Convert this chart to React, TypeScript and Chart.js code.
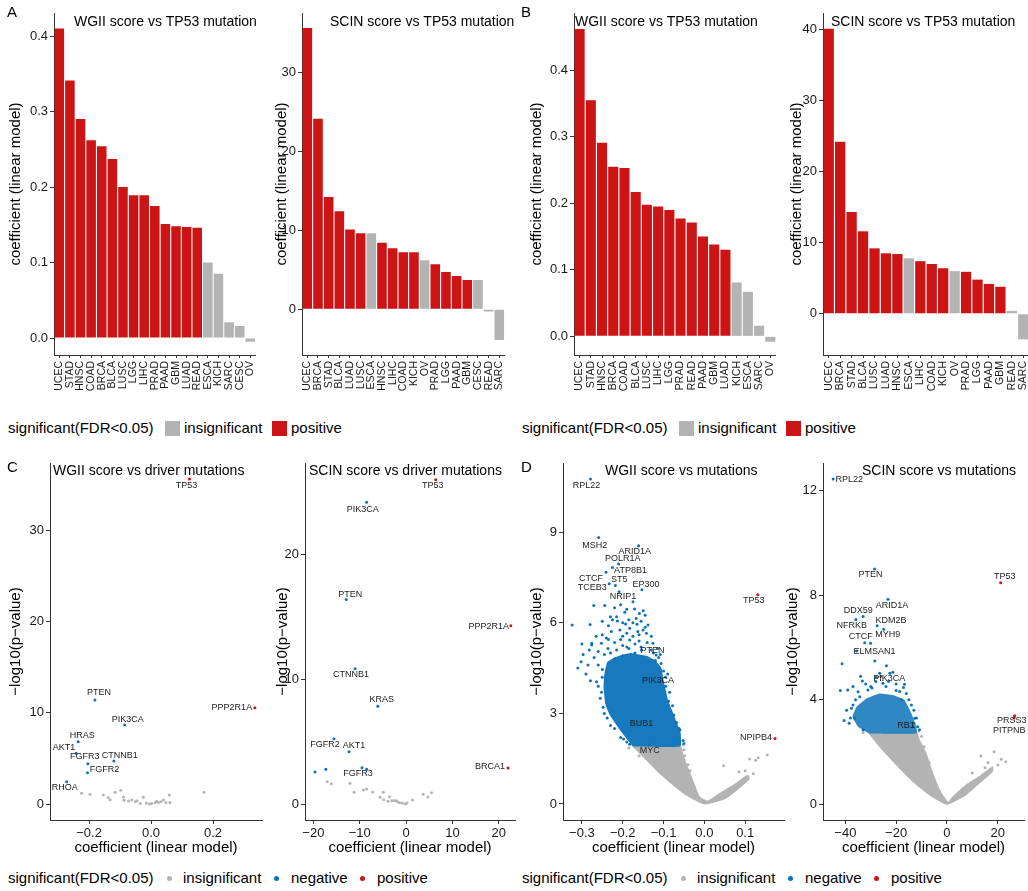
import React, { useEffect, useRef } from "react";
import { Chart, registerables } from "chart.js";
Chart.register(...registerables);

const FONT = '"Liberation Sans", Arial, Helvetica, sans-serif';
const RED = "#CC1414";
const GRAY = "#B3B3B3";
const BLUE = "#0B72BA";
const AXIS = "#333333";
const TXT = "#1a1a1a";

// ---------- Panel A (bars) ----------
const aWgiiCancer = ["UCEC","STAD","HNSC","COAD","BRCA","BLCA","LUSC","LGG","LIHC","PRAD","PAAD","GBM","LUAD","READ","ESCA","KICH","SARC","CESC","OV"];
const aWgiiCoef = [0.41,0.341,0.29,0.262,0.254,0.237,0.2,0.189,0.189,0.175,0.151,0.148,0.147,0.146,0.1,0.085,0.021,0.016,-0.005];
const aWgiiSig = ["positive","positive","positive","positive","positive","positive","positive","positive","positive","positive","positive","positive","positive","positive","insignificant","insignificant","insignificant","insignificant","insignificant"];

const aScinCancer = ["UCEC","BRCA","STAD","BLCA","LUAD","LUSC","ESCA","HNSC","LIHC","COAD","KICH","OV","PRAD","LGG","PAAD","GBM","CESC","READ","SARC"];
const aScinCoef = [35.6,24.1,14.2,12.4,10.1,9.6,9.6,8.4,7.7,7.2,7.2,6.2,5.7,4.7,4.2,3.7,3.7,-0.3,-3.9];
const aScinSig = ["positive","positive","positive","positive","positive","positive","insignificant","positive","positive","positive","positive","insignificant","positive","positive","positive","positive","insignificant","insignificant","insignificant"];

// ---------- Panel B (bars) ----------
const bWgiiCancer = ["UCEC","STAD","HNSC","BRCA","COAD","BLCA","LUSC","LIHC","LGG","PRAD","READ","PAAD","GBM","LUAD","KICH","ESCA","SARC","OV"];
const bWgiiCoef = [0.462,0.355,0.291,0.255,0.253,0.217,0.198,0.195,0.19,0.177,0.171,0.15,0.138,0.13,0.081,0.067,0.016,-0.008];
const bWgiiSig = ["positive","positive","positive","positive","positive","positive","positive","positive","positive","positive","positive","positive","positive","positive","insignificant","insignificant","insignificant","insignificant"];

const bScinCancer = ["UCEC","BRCA","STAD","BLCA","LUSC","LUAD","HNSC","ESCA","LIHC","COAD","KICH","OV","PRAD","LGG","PAAD","GBM","READ","SARC"];
const bScinCoef = [40.1,24.2,14.3,11.6,9.2,8.5,8.4,7.8,7.4,7.0,6.4,6.0,5.9,4.8,4.2,3.8,0.4,-3.6];
const bScinSig = ["positive","positive","positive","positive","positive","positive","positive","insignificant","positive","positive","positive","insignificant","positive","positive","positive","positive","insignificant","insignificant"];

// ---------- Panel C left (WGII vs driver mutations) ----------
const cWgiiGene = ["TP53","PPP2R1A","PTEN","PIK3CA","HRAS","AKT1","FGFR3","CTNNB1","FGFR2","RHOA"];
const cWgiiGeneCoef = [0.124,0.335,-0.181,-0.085,-0.235,-0.242,-0.204,-0.12,-0.205,-0.272];
const cWgiiGeneLogP = [35.6,10.55,11.4,8.65,6.82,5.55,4.42,4.71,3.43,2.45];
const cWgiiGeneSig = ["positive","positive","negative","negative","negative","negative","negative","negative","negative","negative"];
const cWgiiNegCoef: number[] = [];
const cWgiiNegLogP: number[] = [];
const cWgiiInsCoef = [-0.224,-0.197,-0.154,-0.138,-0.116,-0.098,-0.089,-0.087,-0.073,-0.062,-0.051,-0.035,-0.025,-0.005,0.002,0.013,0.024,0.032,0.04,0.048,0.059,0.061,0.171,-0.132,-0.045,0.018,-0.015];
const cWgiiInsLogP = [1.17,1.06,0.99,0.72,1.28,1.5,0.77,0.4,0.33,0.44,0.26,0.07,0.73,0.0,0.07,0.15,0.18,0.26,0.44,0.18,0.99,0.18,1.28,0.47,0.35,0.3,0.1];

// ---------- Panel C right (SCIN vs driver mutations) ----------
const cScinGene = ["TP53","PPP2R1A","BRCA1","PIK3CA","PTEN","CTNNB1","KRAS","FGFR2","AKT1","FGFR3"];
const cScinGeneCoef = [6.4,22.6,22.0,-8.5,-12.9,-11.0,-6.1,-15.55,-12.3,-9.5];
const cScinGeneLogP = [26.0,14.3,2.9,24.2,16.4,10.85,7.85,5.25,4.21,2.93];
const cScinGeneSig = ["positive","positive","positive","negative","negative","negative","negative","negative","negative","negative"];
const cScinNegCoef = [-8.5,-19.65,-17.3];
const cScinNegLogP = [2.8,2.58,2.8];
const cScinInsCoef = [-17.0,-16.1,-12.1,-11.2,-9.2,-8.5,-7.2,-5.6,-4.9,-4.8,-3.6,-3.1,-2.6,-2.1,-1.4,-0.2,0.2,1.4,3.7,4.7,5.5,-1.8,-0.8,-3.9];
const cScinInsLogP = [1.81,1.65,1.68,0.96,1.14,1.22,0.98,0.56,0.96,0.37,0.61,0.29,0.3,0.29,0.13,0.02,0.1,0.34,0.8,0.58,0.93,0.2,0.1,0.25];

// ---------- Panel D left (WGII vs mutations) ----------
const dWgiiGene = ["RPL22","MSH2","ARID1A","POLR1A","ATP8B1","CTCF","ST5","TCEB3","EP300","NRIP1","TP53","PTEN","PIK3CA","BUB1","MYC","NPIPB4"];
const dWgiiGeneCoef = [-0.279,-0.259,-0.161,-0.21,-0.225,-0.241,-0.218,-0.233,-0.153,-0.209,0.131,-0.154,-0.148,-0.159,-0.134,0.173];
const dWgiiGeneLogP = [10.76,8.82,8.55,7.95,7.83,7.67,7.23,7.29,7.09,7.03,6.93,5.1,4.13,2.72,1.95,2.17];
const dWgiiGeneSig = ["negative","negative","negative","negative","negative","negative","negative","negative","negative","negative","positive","negative","negative","negative","negative","positive"];
const dWgiiNegCoef = [-0.324,-0.28,-0.271,-0.244,-0.22,-0.171,-0.215,-0.213,-0.193,-0.138,-0.228,-0.207,-0.183,-0.163,-0.15,-0.167,-0.159,-0.276,-0.252,-0.126,-0.297,-0.302,-0.276,-0.236,-0.279,-0.264,-0.118,-0.106,-0.183,-0.142,-0.25,-0.26,-0.255,-0.245,-0.23,-0.205,-0.19,-0.095,-0.088,-0.075,-0.062,-0.052,-0.1,-0.12,-0.2,-0.17,-0.22,-0.26,-0.09,-0.19,-0.16,-0.13,-0.24,-0.2,-0.175,-0.195,-0.25,-0.23,
  -0.31,-0.29,-0.285,-0.27,-0.26,-0.245,-0.23,-0.215,-0.2,-0.185,-0.17,-0.155,-0.14,-0.125,-0.112,-0.13,-0.145,-0.16,-0.175,-0.19,-0.205,-0.22,-0.235,-0.25,-0.265,-0.2,-0.185,-0.165,-0.155,-0.145,-0.235,-0.225,-0.19,-0.175,-0.205,-0.15,-0.115,-0.108,-0.3,-0.282,
  -0.25,-0.252,-0.248,-0.238,-0.22,-0.198,-0.183,-0.095,-0.085,-0.078,-0.068,-0.06,-0.05];
const dWgiiNegLogP = [5.93,5.94,6.57,6.57,6.5,6.46,6.2,6.06,5.96,5.93,5.71,5.76,5.82,5.71,5.76,6.14,6.31,5.32,5.32,5.32,4.95,4.71,5.26,5.15,4.08,4.05,4.93,4.65,5.43,5.65,4.45,3.9,3.5,3.0,2.6,2.2,2.05,3.9,3.4,2.95,2.5,2.1,4.4,4.75,4.9,5.0,4.8,4.6,4.3,5.2,5.4,5.1,5.5,5.55,6.0,6.35,6.05,6.2,
  4.5,4.3,4.6,4.85,5.05,4.95,5.0,5.1,5.25,5.15,5.3,5.2,5.35,5.0,4.85,5.55,5.85,5.6,5.55,5.65,5.45,5.35,5.45,5.6,5.55,6.0,6.1,5.95,6.05,6.25,5.9,6.1,6.45,6.7,6.6,6.4,5.15,4.95,5.3,5.1,
  4.2,3.7,3.2,2.85,2.5,2.15,1.98,4.2,3.7,3.25,2.7,2.45,2.0];
const dWgiiInsCoef = [-0.05,-0.048,-0.04,-0.035,0.047,0.085,0.111,0.126,0.132,0.154,0.12,0.1,-0.06,-0.052,-0.185,-0.16];
const dWgiiInsLogP = [1.8,1.6,1.3,1.1,1.27,1.07,1.49,1.45,1.53,1.62,1.0,1.1,2.05,1.95,1.85,1.6];
const dWgiiBlueCloud = [[-0.175,1.9],[-0.207,2.45],[-0.232,2.95],[-0.243,3.33],[-0.247,3.88],[-0.245,4.3],[-0.238,4.7],[-0.22,4.85],[-0.2,4.95],[-0.18,5.0],[-0.16,4.95],[-0.14,4.9],[-0.12,4.75],[-0.105,4.5],[-0.1,4.1],[-0.088,3.4],[-0.072,2.85],[-0.058,2.35],[-0.0585,1.9]];
const dWgiiGrayCloud = [[-0.175,1.9],[-0.142,1.46],[-0.11,1.02],[-0.077,0.63],[-0.045,0.3],[0,0],[0.053,0.19],[0.11,0.82],[0.106,0.96],[0.077,0.68],[0.037,0.35],[0.008,0.1],[-0.012,0.24],[-0.0285,0.79],[-0.045,1.35],[-0.053,1.68],[-0.0585,1.9]];

// ---------- Panel D right (SCIN vs mutations) ----------
const dScinGene = ["RPL22","PTEN","TP53","ARID1A","DDX59","NFRKB","KDM2B","MYH9","CTCF","ELMSAN1","PIK3CA","RB1","PRSS3","PITPNB"];
const dScinGeneCoef = [-44.8,-28.5,21.2,-23.2,-33.0,-35.9,-27.5,-24.9,-32.4,-30.1,-27.8,-13.4,26.7,26.5];
const dScinGeneLogP = [12.44,9.0,8.47,7.84,7.18,7.07,6.83,6.69,6.18,6.16,4.86,2.97,3.39,3.3];
const dScinGeneSig = ["negative","negative","positive","negative","negative","negative","negative","negative","negative","negative","negative","negative","positive","positive"];
const dScinNegCoef = [-35.6,-41.3,-28.4,-23.8,-21.3,-33.3,-39.1,-17.1,-26.5,-22.5,-16.7,-34.3,-37.6,-36.3,-16.0,-14.0,-12.7,-11.5,-18.6,-31.1,-25.2,-29.5,-20.0,-38.5,-33.0,-13.0,
  -38,-37,-36,-39.5,-35,-30,-28,-24,-20,-18,-15,-13,-12,-10.8,-32,-26,-23,-37,-34,-40.5,-42];
const dScinNegLogP = [5.86,5.37,5.48,5.3,5.05,4.71,4.37,4.47,5.01,5.01,4.59,4.11,3.67,3.29,4.24,3.8,3.29,2.97,4.31,4.37,4.63,4.45,4.6,3.1,2.85,3.1,
  3.3,3.8,4.0,3.6,4.3,4.5,4.7,4.5,4.35,4.0,4.0,3.6,3.3,2.85,4.6,4.9,4.7,4.5,4.9,3.2,4.35];
const dScinInsCoef = [13.4,18.6,23.2,16.2,20.1,21.4,-11.0,-10.0,-9.0,10.0,15.0,-7.0,-33.0,-28.0];
const dScinInsLogP = [1.85,2.01,1.63,1.6,1.5,1.72,2.8,2.6,2.2,1.2,1.4,1.6,2.75,2.6];
const dScinBlueCloud = [[-30.7,2.71],[-35,2.97],[-37.2,3.35],[-35.6,3.73],[-31.7,4.05],[-26.5,4.24],[-21.3,4.18],[-16.7,3.99],[-14,3.48],[-12.1,2.97],[-11.8,2.71]];
const dScinGrayCloud = [[-30.7,2.71],[-26.5,2.2],[-19.9,1.5],[-13.4,0.87],[-6.9,0.36],[0,0],[7.5,0.36],[12.7,0.8],[18,1.25],[18,1.44],[12.7,1.06],[7.5,0.74],[2.3,0.29],[0.5,0.08],[-2.9,0.55],[-5.6,1.19],[-8.2,1.95],[-10.8,2.46],[-11.8,2.71]];

// label pixel shifts (layout only)
const cWgiiShift = [[-3,7],[-23,0],[4,-7],[3,-6],[4,-6],[-12,-6],[-3,-7],[6,-6],[17,-3],[-2,6]];
const cScinShift = [[-3,6],[-22,1],[-18,-2],[-4,7],[4,-5],[-4,6],[4,-7],[-9,6],[5,-6],[-4,6]];
const dWgiiShift = [[-4,7],[-4,8],[-4,6],[4,-5],[18,3],[-15,6],[4,-6],[-17,4],[4,-5],[4,5],[-4,6],[11,1],[14,1],[2,2],[0,5],[-19,-1]];
const dScinShift = [[16,1],[-4,6],[4,-6],[4,6],[-5,-6],[-4,6],[14,-5],[4,5],[-4,-6],[4,8],[13,1],[-7,-1],[-3,5],[-5,13]];

const panelTitlePlugin = {
  id: "panelTitle",
  afterDraw(chart: any, _a: any, opts: any) {
    if (!opts || !opts.text) return;
    const ctx = chart.ctx;
    ctx.save();
    ctx.font = `14px ${FONT}`;
    ctx.fillStyle = "#000";
    ctx.textAlign = "left";
    ctx.textBaseline = "middle";
    ctx.fillText(opts.text, opts.x, opts.y);
    ctx.restore();
  },
};

const geneLabelPlugin = {
  id: "geneLabels",
  afterDatasetsDraw(chart: any, _a: any, opts: any) {
    if (!opts || !opts.items) return;
    const ctx = chart.ctx;
    const xs = chart.scales.x, ys = chart.scales.y;
    ctx.save();
    ctx.font = `9px ${FONT}`;
    ctx.fillStyle = "#222";
    ctx.textAlign = "center";
    ctx.textBaseline = "middle";
    for (const it of opts.items) {
      ctx.fillText(it.text, xs.getPixelForValue(it.x) + it.dx, ys.getPixelForValue(it.y) + it.dy);
    }
    ctx.restore();
  },
};

const fmt = (v: number, dec: number) => {
  if (Math.abs(v) < 1e-9) return (0).toFixed(dec);
  return (v < 0 ? "\u2212" : "") + Math.abs(v).toFixed(dec);
};

function barConfig(cats: string[], vals: number[], sig: string[], p: any) {
  return {
    type: "bar",
    data: {
      labels: cats,
      datasets: [{
        data: vals,
        backgroundColor: sig.map((s) => (s === "positive" ? RED : GRAY)),
        borderWidth: 0,
        barPercentage: 0.9,
        categoryPercentage: 1,
      }],
    },
    options: {
      responsive: false,
      animation: false,
      devicePixelRatio: 1,
      layout: { padding: { top: 13, right: 4, left: 0, bottom: 0 } },
      plugins: { legend: { display: false }, tooltip: { enabled: false }, panelTitle: p.title },
      scales: {
        x: {
          type: "category",
          offset: true,
          grid: { offset: false, drawOnChartArea: false, tickLength: 3, color: AXIS },
          border: { color: AXIS, width: 1 },
          ticks: { autoSkip: false, minRotation: 90, maxRotation: 90, padding: 3, font: { family: FONT, size: 10.5 }, color: TXT },
          afterFit: (s: any) => { s.height = 45; },
        },
        y: {
          min: p.yMin, max: p.yMax,
          ticks: { stepSize: p.step, includeBounds: false, callback: (v: any) => fmt(Number(v), p.dec), font: { family: FONT, size: 13 }, color: TXT, padding: 2 },
          grid: { drawOnChartArea: false, tickLength: 4, color: AXIS },
          border: { color: AXIS, width: 1 },
          title: { display: true, text: "coefficient (linear model)", font: { family: FONT, size: 15 }, color: "#000", padding: { top: p.titlePad, bottom: 0 } },
          afterFit: (s: any) => { s.width = p.yWidth; },
        },
      },
    },
    plugins: [panelTitlePlugin],
  };
}

function volcanoConfig(d: any, p: any) {
  const idx = (sig: string) => d.geneSig.map((_: any, i: number) => i).filter((i: number) => d.geneSig[i] === sig);
  const pt = (i: number) => ({ x: d.geneCoef[i], y: d.geneLogP[i] });
  const red = idx("positive").map(pt);
  const blue = idx("negative").map(pt).concat(d.negCoef.map((x: number, i: number) => ({ x, y: d.negLogP[i] })));
  const gray = d.insCoef.map((x: number, i: number) => ({ x, y: d.insLogP[i] }));
  const poly = (c: number[][]) => (c.length ? c.concat([c[0]]).map(([x, y]) => ({ x, y })) : []);
  const ptStyle = (col: string) => ({ pointRadius: 1.5, pointBorderWidth: 0, pointBackgroundColor: col, backgroundColor: col, borderColor: col, showLine: false });
  const items = d.gene.map((g: string, i: number) => ({ text: g, x: d.geneCoef[i], y: d.geneLogP[i], dx: d.shift[i][0], dy: d.shift[i][1] }));
  return {
    type: "scatter",
    data: {
      datasets: [
        { data: red, order: 1, ...ptStyle(RED) },
        { data: blue, order: 2, ...ptStyle(BLUE) },
        { data: poly(d.blueCloud), order: 3, showLine: true, fill: "shape", tension: 0.1, pointRadius: 0, borderWidth: 0, borderColor: "rgba(0,0,0,0)", backgroundColor: p.blueFill },
        { data: gray, order: 4, ...ptStyle(GRAY) },
        { data: poly(d.grayCloud), order: 5, showLine: true, fill: "shape", tension: 0.15, pointRadius: 0, borderWidth: 1, borderColor: GRAY, backgroundColor: GRAY },
      ],
    },
    options: {
      responsive: false,
      animation: false,
      devicePixelRatio: 1,
      layout: { padding: { top: 13, right: p.padRight, left: 0, bottom: 0 } },
      plugins: { legend: { display: false }, tooltip: { enabled: false }, panelTitle: p.title, geneLabels: { items } },
      scales: {
        x: {
          type: "linear", min: p.xMin, max: p.xMax,
          ticks: { stepSize: p.xStep, includeBounds: false, callback: (v: any) => fmt(Number(v), p.xDec), font: { family: FONT, size: 13 }, color: TXT, padding: 2, maxRotation: 0 },
          grid: { drawOnChartArea: false, tickLength: 4, color: AXIS },
          border: { color: AXIS, width: 1 },
          title: { display: true, text: "coefficient (linear model)", font: { family: FONT, size: 15 }, color: "#000", padding: { top: 0, bottom: 1 } },
          afterFit: (s: any) => { s.height = 38; },
        },
        y: {
          type: "linear", min: p.yMin, max: p.yMax,
          ticks: { stepSize: p.yStep, includeBounds: false, callback: (v: any) => fmt(Number(v), 0), font: { family: FONT, size: 13 }, color: TXT, padding: 2 },
          grid: { drawOnChartArea: false, tickLength: 4, color: AXIS },
          border: { color: AXIS, width: 1 },
          title: { display: true, text: "\u2212log10(p\u2212value)", font: { family: FONT, size: 15 }, color: "#000", padding: { top: p.titlePad, bottom: 0 } },
          afterFit: (s: any) => { s.width = p.yWidth; },
        },
      },
    },
    plugins: [panelTitlePlugin, geneLabelPlugin],
  };
}

function ChartBox(props: { left: number; top: number; width: number; height: number; make: () => any }) {
  const ref = useRef<HTMLCanvasElement>(null);
  useEffect(() => {
    const c = new Chart(ref.current as HTMLCanvasElement, props.make());
    return () => c.destroy();
  }, []);
  return (
    <canvas
      ref={ref}
      width={props.width}
      height={props.height}
      style={{ position: "absolute", left: props.left, top: props.top, width: props.width, height: props.height }}
    />
  );
}

const textStyle = (left: number, top: number): React.CSSProperties => ({
  position: "absolute", left, top, fontSize: 15, lineHeight: "18px", whiteSpace: "nowrap", color: "#000", fontFamily: FONT,
});

function BarLegend({ dx }: { dx: number }) {
  return (
    <>
      <span style={textStyle(8 + dx, 419)}>significant(FDR&lt;0.05)</span>
      <div style={{ position: "absolute", left: 165 + dx, top: 421, width: 15, height: 15, background: GRAY }} />
      <span style={textStyle(184 + dx, 419)}>insignificant</span>
      <div style={{ position: "absolute", left: 272 + dx, top: 421, width: 15, height: 15, background: RED }} />
      <span style={textStyle(291 + dx, 419)}>positive</span>
    </>
  );
}

function DotLegend({ dx }: { dx: number }) {
  const dot = (cx: number, col: string) => (
    <div style={{ position: "absolute", left: cx - 2.5 + dx, top: 875.5, width: 5, height: 5, borderRadius: "50%", background: col }} />
  );
  return (
    <>
      <span style={textStyle(8 + dx, 869)}>significant(FDR&lt;0.05)</span>
      {dot(169, GRAY)}
      <span style={textStyle(183 + dx, 869)}>insignificant</span>
      {dot(276, BLUE)}
      <span style={textStyle(291 + dx, 869)}>negative</span>
      {dot(362, RED)}
      <span style={textStyle(377 + dx, 869)}>positive</span>
    </>
  );
}

export default function App() {
  const letter = (t: string, left: number, top: number) => <span style={textStyle(left, top)}>{t}</span>;
  return (
    <div style={{ position: "fixed", left: 0, top: 0, width: 1028, height: 891, overflow: "hidden", background: "#fff", fontFamily: FONT }}>
      <ChartBox left={0} top={0} width={266} height={400} make={() => barConfig(aWgiiCancer, aWgiiCoef, aWgiiSig, { yMin: -0.0225, yMax: 0.4305, step: 0.1, dec: 1, yWidth: 54, titlePad: 7, title: { text: "WGII score vs TP53 mutation", x: 74, y: 22 } })} />
      <ChartBox left={266} top={0} width={249} height={400} make={() => barConfig(aScinCancer, aScinCoef, aScinSig, { yMin: -5.8, yMax: 37.5, step: 10, dec: 0, yWidth: 36, titlePad: 7, title: { text: "SCIN score vs TP53 mutation", x: 64, y: 22 } })} />
      <ChartBox left={520} top={0} width={266} height={400} make={() => barConfig(bWgiiCancer, bWgiiCoef, bWgiiSig, { yMin: -0.028, yMax: 0.486, step: 0.1, dec: 1, yWidth: 54, titlePad: 8, title: { text: "WGII score vs TP53 mutation", x: 55, y: 22 } })} />
      <ChartBox left={775} top={0} width={264} height={400} make={() => barConfig(bScinCancer, bScinCoef, bScinSig, { yMin: -5.8, yMax: 42.3, step: 10, dec: 0, yWidth: 48, titlePad: 13, title: { text: "SCIN score vs TP53 mutation", x: 56, y: 22 } })} />

      <ChartBox left={0} top={450} width={266} height={408} make={() => volcanoConfig(
        { gene: cWgiiGene, geneCoef: cWgiiGeneCoef, geneLogP: cWgiiGeneLogP, geneSig: cWgiiGeneSig, negCoef: cWgiiNegCoef, negLogP: cWgiiNegLogP, insCoef: cWgiiInsCoef, insLogP: cWgiiInsLogP, blueCloud: [], grayCloud: [], shift: cWgiiShift },
        { xMin: -0.326, xMax: 0.358, xStep: 0.2, xDec: 1, yMin: -1.75, yMax: 37.35, yStep: 10, yWidth: 50, titlePad: 7, padRight: 4, blueFill: BLUE, title: { text: "WGII score vs driver mutations", x: 53, y: 21 } })} />
      <ChartBox left={266} top={450} width={253} height={408} make={() => volcanoConfig(
        { gene: cScinGene, geneCoef: cScinGeneCoef, geneLogP: cScinGeneLogP, geneSig: cScinGeneSig, negCoef: cScinNegCoef, negLogP: cScinNegLogP, insCoef: cScinInsCoef, insLogP: cScinInsLogP, blueCloud: [], grayCloud: [], shift: cScinShift },
        { xMin: -21.8, xMax: 23.5, xStep: 10, xDec: 0, yMin: -1.26, yMax: 27.34, yStep: 10, yWidth: 39, titlePad: 8, padRight: 4, blueFill: BLUE, title: { text: "SCIN score vs driver mutations", x: 43, y: 21 } })} />
      <ChartBox left={520} top={450} width={268} height={408} make={() => volcanoConfig(
        { gene: dWgiiGene, geneCoef: dWgiiGeneCoef, geneLogP: dWgiiGeneLogP, geneSig: dWgiiGeneSig, negCoef: dWgiiNegCoef, negLogP: dWgiiNegLogP, insCoef: dWgiiInsCoef, insLogP: dWgiiInsLogP, blueCloud: dWgiiBlueCloud, grayCloud: dWgiiGrayCloud, shift: dWgiiShift },
        { xMin: -0.3463, xMax: 0.1951, xStep: 0.1, xDec: 1, yMin: -0.53, yMax: 11.29, yStep: 3, yWidth: 43, titlePad: 8, padRight: 3, blueFill: "rgba(11,114,186,0.95)", title: { text: "WGII score vs mutations", x: 85, y: 21 } })} />
      <ChartBox left={775} top={450} width={253} height={408} make={() => volcanoConfig(
        { gene: dScinGene, geneCoef: dScinGeneCoef, geneLogP: dScinGeneLogP, geneSig: dScinGeneSig, negCoef: dScinNegCoef, negLogP: dScinNegLogP, insCoef: dScinInsCoef, insLogP: dScinInsLogP, blueCloud: dScinBlueCloud, grayCloud: dScinGrayCloud, shift: dScinShift },
        { xMin: -48.82, xMax: 30.39, xStep: 20, xDec: 0, yMin: -0.6, yMax: 13.05, yStep: 4, yWidth: 48, titlePad: 9, padRight: 3, blueFill: "rgba(11,114,186,0.85)", title: { text: "SCIN score vs mutations", x: 87, y: 21 } })} />

      <BarLegend dx={0} />
      <BarLegend dx={514} />
      <DotLegend dx={0} />
      <DotLegend dx={514} />

      {letter("A", 7, 3)}
      {letter("B", 521, 3)}
      {letter("C", 7, 458)}
      {letter("D", 521, 458)}
    </div>
  );
}
